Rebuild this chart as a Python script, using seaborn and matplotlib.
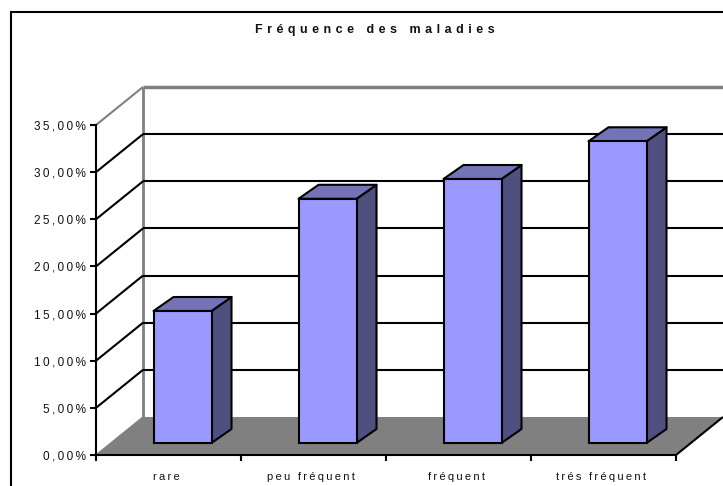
from matplotlib import pyplot as plt
from matplotlib.patches import Polygon, Rectangle
from matplotlib.transforms import Affine2D, IdentityTransform
import pandas as pd
import seaborn as sns

categories = ['rare', 'peu fréquent', 'fréquent', 'trés fréquent']
values = [14.0, 25.9, 28.0, 32.0]
y_ticks = [0, 5, 10, 15, 20, 25, 30, 35]
y_tick_labels = ['0,00%', '5,00%', '10,00%', '15,00%', '20,00%', '25,00%', '30,00%', '35,00%']
title = 'Fréquence des maladies'

WALL = (47, 38)  # profondeur du mur du fond, en pixels
BAR_FRONT = (14, 12)
BAR_BACK = (34, 26)
FRONT, SIDE, TOP = '#9999ff', '#4f4f80', '#7373b8'
GREY = '#808080'


def spaced(text, gap='\u2009'):
    # espacement des lettres comme dans l'original
    return gap.join(text)


sns.set_theme(style='white')
plt.rcParams['font.family'] = ['Liberation Sans', 'DejaVu Sans']

fig = plt.figure(figsize=(7.23, 4.86), dpi=100, facecolor='white')
ax = fig.add_axes([96 / 723, 31 / 486, 580 / 723, 330 / 486], facecolor='none')

df = pd.DataFrame({'categorie': categories, 'valeur': values})
sns.barplot(data=df, x='categorie', y='valeur', color=FRONT, saturation=1, width=0.4,
            edgecolor='black', linewidth=1.5, ax=ax, zorder=5)

ax.set_xlim(-0.5, len(categories) - 0.5)
ax.set_ylim(0, 35)
ax.set_xlabel('')
ax.set_ylabel('')


def px(x, y, dx=0, dy=0):
    sx, sy = ax.transData.transform((x, y))
    return sx + dx, sy + dy


def shape(points, **kwargs):
    ax.add_patch(Polygon(points, transform=IdentityTransform(), clip_on=False, **kwargs))


def line(p0, p1, color='black', lw=1.5, zorder=2):
    ax.plot([p0[0], p1[0]], [p0[1], p1[1]], color=color, lw=lw, zorder=zorder,
            transform=IdentityTransform(), clip_on=False, solid_capstyle='butt')


x0, x1 = ax.get_xlim()

# sol et murs
shape([px(x0, 0), px(x1, 0), px(x1, 0, *WALL), px(x0, 0, *WALL)],
      facecolor=GREY, edgecolor='none', zorder=1)
line(px(x1, 0), px(x1, 0, *WALL))
line(px(x0, 0), px(x0, 0, *WALL), color=GREY, lw=1)
line(px(x0, 0, *WALL), px(x0, 35, *WALL), color=GREY, lw=2)
line(px(x0, 35), px(x0, 35, *WALL), color=GREY, lw=1.5)
line(px(x0, 35, *WALL), px(x1, 35, *WALL), color=GREY, lw=2.5)
for v in y_ticks[1:-1]:
    line(px(x0, v), px(x0, v, *WALL))
    line(px(x0, v, *WALL), px(x1, v, *WALL))

# faces des barres
for bar in ax.patches:
    if not isinstance(bar, Rectangle):
        continue
    left, w, h = bar.get_x(), bar.get_width(), bar.get_height()
    right = left + w
    shape([px(right, 0, *BAR_FRONT), px(right, 0, *BAR_BACK),
           px(right, h, *BAR_BACK), px(right, h, *BAR_FRONT)],
          facecolor=SIDE, edgecolor='black', lw=1.5, joinstyle='round', zorder=4)
    shape([px(left, h, *BAR_FRONT), px(left, h, *BAR_BACK),
           px(right, h, *BAR_BACK), px(right, h, *BAR_FRONT)],
          facecolor=TOP, edgecolor='black', lw=1.5, joinstyle='round', zorder=4)
    bar.set_transform(ax.transData + Affine2D().translate(*BAR_FRONT))
    bar.set_clip_on(False)

# axes
for side in ['top', 'right']:
    ax.spines[side].set_visible(False)
for side in ['left', 'bottom']:
    ax.spines[side].set_color('black')
    ax.spines[side].set_linewidth(1.5)
    ax.spines[side].set_zorder(3)

ax.set_yticks(y_ticks)
ax.set_yticklabels([spaced(t) for t in y_tick_labels])
ax.set_xticks([x0 + i for i in range(len(categories) + 1)])
ax.set_xticklabels([])
ax.set_xticks([i - 0.015 for i in range(len(categories))], [spaced(c) for c in categories], minor=True)
ax.tick_params(axis='both', which='major', length=4, width=1.5, color='black', left=True, bottom=True)
ax.tick_params(axis='y', labelsize=8.5, labelcolor='#111111', pad=3)
ax.tick_params(axis='x', which='minor', length=0, labelsize=8, labelcolor='#111111', pad=12)

fig.add_artist(Rectangle((10.5 / 723, -0.1), 1.2, (486 - 12.5) / 486 + 0.1,
                         transform=fig.transFigure, fill=False, edgecolor='black', lw=1.5))
fig.text(374.5 / 723, 1 - 29.5 / 486, spaced(title, '\u2009\u200a\u200a'), ha='center', va='center',
         fontsize=9, fontweight='bold', color='#111111')

fig.savefig('out.png', dpi=100)
